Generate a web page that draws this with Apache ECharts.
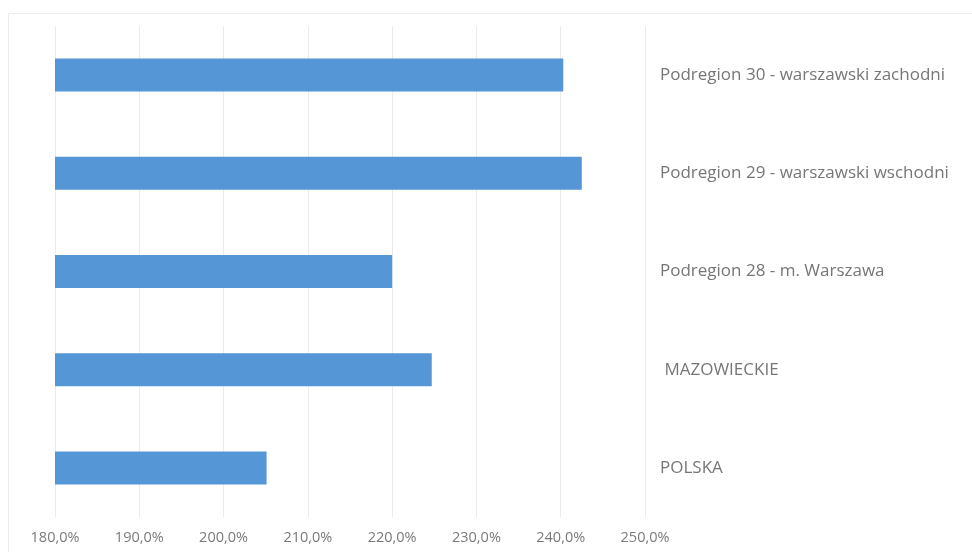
<!DOCTYPE html>
<html>
<head>
<meta charset="utf-8">
<script src="https://cdn.jsdelivr.net/npm/echarts@6/dist/echarts.min.js"></script>
<style>html,body{margin:0;padding:0;background:#fff;}#c{width:972px;height:552px;}</style>
</head>
<body>
<div id="c"></div>
<script>
const categories = ['POLSKA', ' MAZOWIECKIE', 'Podregion 28 - m. Warszawa', 'Podregion 29 - warszawski wschodni', 'Podregion 30 - warszawski zachodni'];
const values = [205.1, 224.7, 220.0, 242.5, 240.3];
const axisMin = 180;
const axisMax = 250;
const axisStep = 10;

const chart = echarts.init(document.getElementById('c'), null, {renderer: 'canvas'});
chart.setOption({
  animation: false,
  backgroundColor: '#ffffff',
  graphic: [{
    type: 'rect', silent: true, z: -10,
    shape: {x: 8.5, y: 13.5, width: 1000, height: 600},
    style: {fill: 'none', stroke: '#ececec', lineWidth: 1}
  }],
  grid: {left: 55, right: 327, top: 26, bottom: 35, containLabel: false},
  xAxis: {
    type: 'value', min: axisMin, max: axisMax, interval: axisStep,
    axisLine: {show: false}, axisTick: {show: false},
    splitLine: {show: true, lineStyle: {color: '#ebebeb', width: 1}},
    axisLabel: {
      color: '#7a7a7a', fontFamily: 'Open Sans', fontSize: 14.5, margin: 13,
      formatter: v => v.toFixed(1).replace('.', ',') + '%'
    }
  },
  yAxis: {
    type: 'category', data: categories, position: 'right',
    axisLine: {show: false}, axisTick: {show: false},
    axisLabel: {color: '#767676', fontFamily: 'Open Sans', fontSize: 17, margin: 15, align: 'left'}
  },
  series: [{
    type: 'bar', data: values, barWidth: 33,
    itemStyle: {color: '#5596d6'}
  }]
});
</script>
</body>
</html>
